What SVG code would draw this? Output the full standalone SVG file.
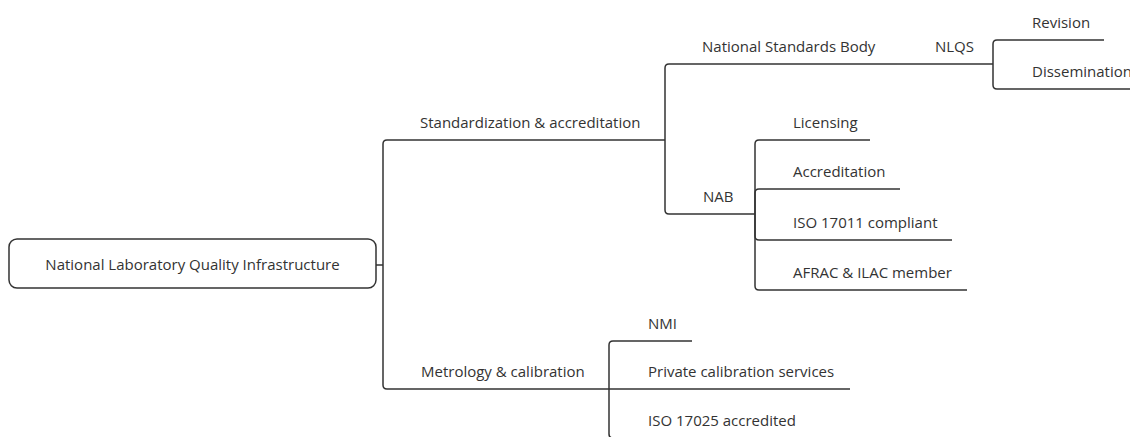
<svg xmlns="http://www.w3.org/2000/svg" width="1130" height="437" viewBox="0 0 1130 437">
<style>
  .t{font-family:"Open Sans","Noto Sans","Liberation Sans",sans-serif;font-size:15px;fill:#333}
  .c{fill:none;stroke:#333;stroke-width:1.5}
  .box{fill:#fff;stroke:#333;stroke-width:1.5}
</style>
<rect width="1130" height="437" fill="#fff"/>
<g id="connectors">
  <path class="c" d="M376 265 H383"/>
  <path class="c" d="M383 265 V144 Q383 140 387 140 H665"/>
  <path class="c" d="M383 265 V385 Q383 389 387 389 H609"/>
  <path class="c" d="M665 140 V68 Q665 64 669 64 H897"/>
  <path class="c" d="M897 64 H993"/>
  <path class="c" d="M665 140 V210 Q665 214 669 214 H755"/>
  <path class="c" d="M993 64 V44 Q993 40 997 40 H1104"/>
  <path class="c" d="M993 64 V85 Q993 89 997 89 H1130"/>
  <path class="c" d="M755 214 V144 Q755 140 759 140 H870"/>
  <path class="c" d="M755 214 V193 Q755 189 759 189 H900"/>
  <path class="c" d="M755 214 V236 Q755 240 759 240 H952"/>
  <path class="c" d="M755 214 V286 Q755 290 759 290 H967"/>
  <path class="c" d="M609 389 V345 Q609 341 613 341 H692"/>
  <path class="c" d="M609 389 H850"/>
  <path class="c" d="M609 389 V434 Q609 438 613 438 H880"/>
</g>
<g id="root">
  <rect class="box" x="9" y="239" width="367" height="49" rx="8"/>
  <text class="t" x="192.5" y="270" text-anchor="middle">National Laboratory Quality Infrastructure</text>
</g>
<g id="n-standardization"><text class="t" x="420" y="128">Standardization &amp; accreditation</text></g>
<g id="n-nsb"><text class="t" x="702" y="52">National Standards Body</text></g>
<g id="n-nlqs"><text class="t" x="935" y="52">NLQS</text></g>
<g id="n-revision"><text class="t" x="1032" y="28">Revision</text></g>
<g id="n-dissemination"><text class="t" x="1032" y="77">Dissemination</text></g>
<g id="n-nab"><text class="t" x="703" y="202">NAB</text></g>
<g id="n-licensing"><text class="t" x="793" y="128">Licensing</text></g>
<g id="n-accreditation"><text class="t" x="793" y="177">Accreditation</text></g>
<g id="n-iso17011"><text class="t" x="793" y="228">ISO 17011 compliant</text></g>
<g id="n-afrac"><text class="t" x="793" y="278">AFRAC &amp; ILAC member</text></g>
<g id="n-metrology"><text class="t" x="421" y="377">Metrology &amp; calibration</text></g>
<g id="n-nmi"><text class="t" x="648" y="329">NMI</text></g>
<g id="n-private"><text class="t" x="648" y="377">Private calibration services</text></g>
<g id="n-iso17025"><text class="t" x="648" y="426">ISO 17025 accredited</text></g>
</svg>
